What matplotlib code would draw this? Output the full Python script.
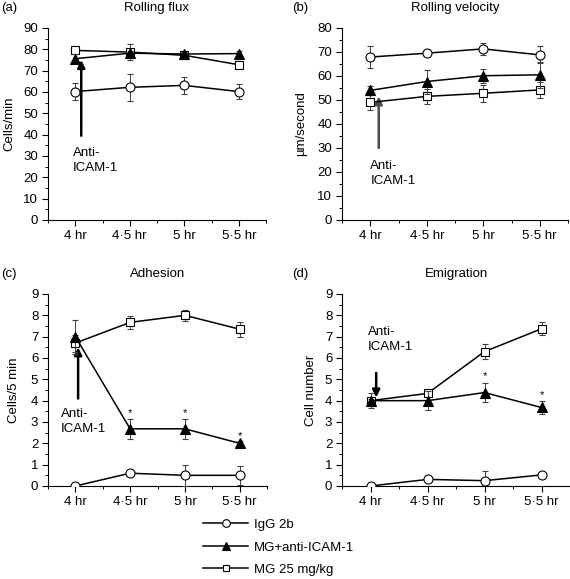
import matplotlib
matplotlib.use("Agg")
import matplotlib.pyplot as plt
from matplotlib.lines import Line2D
from matplotlib.ticker import MultipleLocator

plt.rcParams['font.family'] = ['Liberation Sans', 'DejaVu Sans']
plt.rcParams['font.size'] = 8.5

times = ["4 hr", "4\u00b75 hr", "5 hr", "5\u00b75 hr"]
xpos = [0, 1, 2, 3]

# (a) Rolling flux
flux_igg = [60.2, 62.2, 63.1, 60.2]
flux_igg_err = [4.0, 6.3, 4.0, 3.6]
flux_anti = [75.6, 78.2, 77.8, 78.0]
flux_anti_err = [2.0, 1.0, 1.0, 1.0]
flux_mg = [79.5, 78.7, 77.2, 72.8]
flux_mg_err = [1.0, 3.7, 1.5, 1.0]

# (b) Rolling velocity
vel_igg = [67.9, 69.5, 71.3, 68.8]
vel_igg_err = [4.5, 1.0, 2.4, 3.5]
vel_anti = [54.0, 57.7, 60.1, 60.5]
vel_anti_err = [2.0, 5.0, 3.0, 5.5]
vel_mg = [49.0, 51.5, 52.8, 54.2]
vel_mg_err = [3.0, 3.0, 3.5, 3.2]

# (c) Adhesion
adh_igg = [0.0, 0.6, 0.5, 0.5]
adh_igg_err = [0.0, 0.05, 0.5, 0.45]
adh_anti = [7.0, 2.68, 2.68, 2.0]
adh_anti_err = [0.8, 0.47, 0.47, 0.1]
adh_mg = [6.7, 7.67, 8.0, 7.35]
adh_mg_err = [0.4, 0.3, 0.25, 0.35]
adh_star = [1, 2, 3]

# (d) Emigration
emi_igg = [0.0, 0.31, 0.25, 0.52]
emi_igg_err = [0.0, 0.05, 0.45, 0.05]
emi_anti = [4.0, 4.0, 4.38, 3.68]
emi_anti_err = [0.1, 0.45, 0.45, 0.3]
emi_mg = [4.0, 4.34, 6.3, 7.37]
emi_mg_err = [0.35, 0.1, 0.35, 0.3]
emi_star = [2, 3]

series_names = ["IgG 2b", "MG+anti-ICAM-1", "MG 25 mg/kg"]

fig = plt.figure(figsize=(5.7, 5.79), dpi=100)

W, H = 570.0, 579.0
def box(l, r, top, bot):
    return [l / W, 1 - bot / H, (r - l) / W, (bot - top) / H]

ax_a = fig.add_axes(box(48, 266, 28, 220))
ax_b = fig.add_axes(box(342, 568, 28, 220))
ax_c = fig.add_axes(box(48, 267, 294, 486))
ax_d = fig.add_axes(box(342, 570, 294, 486))


def draw(ax, igg, igg_e, anti, anti_e, mg, mg_e):
    kw = dict(color="k", lw=1.1, ecolor="0.25", elinewidth=0.7, capsize=2,
              capthick=0.7)
    ax.errorbar(xpos, igg, yerr=igg_e, marker="o", ms=6.5, mfc="white",
                mec="k", mew=0.8, zorder=3, **kw)
    ax.errorbar(xpos, mg, yerr=mg_e, marker="s", ms=5.5, mfc="white",
                mec="k", mew=0.8, zorder=4, **kw)
    ax.errorbar(xpos, anti, yerr=anti_e, marker="^", ms=6.5, mfc="k",
                mec="k", mew=0.8, zorder=5, **kw)


def style(ax, ymax, major, minor, title, tag, ylabel, labx):
    ax.set_xlim(-0.5, 3.5)
    ax.set_ylim(0, ymax)
    ax.set_xticks(xpos)
    ax.set_xticklabels(times)
    ax.xaxis.set_minor_locator(MultipleLocator(0.5))
    ax.yaxis.set_major_locator(MultipleLocator(major))
    ax.yaxis.set_minor_locator(MultipleLocator(minor))
    ax.spines['top'].set_visible(False)
    ax.spines['right'].set_visible(False)
    ax.spines['left'].set_linewidth(0.8)
    ax.spines['bottom'].set_linewidth(0.8)
    ax.tick_params(which="major", length=4, width=0.8, labelsize=9.5, pad=3)
    ax.tick_params(which="minor", length=2.5, width=0.7)
    ax.set_ylabel(ylabel, fontsize=9.5)
    ax.yaxis.set_label_coords(labx, 0.5)
    ax.text(0.5, 1.105, title, transform=ax.transAxes, ha="center",
            va="center", fontsize=9.5)
    ax.text(-0.215 if ax in (ax_a, ax_c) else -0.22, 1.105, tag,
            transform=ax.transAxes, ha="left", va="center", fontsize=9.5)


draw(ax_a, flux_igg, flux_igg_err, flux_anti, flux_anti_err, flux_mg, flux_mg_err)
draw(ax_b, vel_igg, vel_igg_err, vel_anti, vel_anti_err, vel_mg, vel_mg_err)
draw(ax_c, adh_igg, adh_igg_err, adh_anti, adh_anti_err, adh_mg, adh_mg_err)
draw(ax_d, emi_igg, emi_igg_err, emi_anti, emi_anti_err, emi_mg, emi_mg_err)

style(ax_a, 90, 10, 5, "Rolling flux", "(a)", "Cells/min", -0.15)
style(ax_b, 80, 10, 5, "Rolling velocity", "(b)", "\u00b5m/second", -0.155)
style(ax_c, 9, 1, 0.5, "Adhesion", "(c)", "Cells/5 min", -0.128)
style(ax_d, 9, 1, 0.5, "Emigration", "(d)", "Cell number", -0.11)

# significance stars
for i in adh_star:
    ax_c.text(xpos[i], adh_anti[i] + adh_anti_err[i] + 0.25, "*",
              ha="center", va="center", fontsize=8)
for i in emi_star:
    ax_d.text(xpos[i], emi_anti[i] + emi_anti_err[i] + 0.3, "*",
              ha="center", va="center", fontsize=8)

# Anti-ICAM-1 arrows
arw = dict(arrowstyle="-|>", lw=1.8, color="k", mutation_scale=11,
           shrinkA=0, shrinkB=0)
ax_a.annotate("", xy=(0.11, 75.0), xytext=(0.11, 39.5), arrowprops=arw)
ax_a.text(-0.05, 28, "Anti-\nICAM-1", ha="left", va="center", fontsize=9.5,
          linespacing=1.3)
arw_b = dict(arw, color="0.3")
ax_b.annotate("", xy=(0.15, 51.5), xytext=(0.15, 30), arrowprops=arw_b)
ax_b.text(0.0, 19.5, "Anti-\nICAM-1", ha="left", va="center", fontsize=9.5,
          linespacing=1.3)
ax_c.annotate("", xy=(0.05, 6.5), xytext=(0.05, 4.1), arrowprops=arw)
ax_c.text(-0.27, 3.02, "Anti-\nICAM-1", ha="left", va="center", fontsize=9.5,
          linespacing=1.3)
ax_d.annotate("", xy=(0.1, 4.15), xytext=(0.1, 5.3), arrowprops=arw)
ax_d.text(-0.05, 6.88, "Anti-\nICAM-1", ha="left", va="center", fontsize=9.5,
          linespacing=1.3)

handles = [
    Line2D([], [], color="k", lw=1.1, marker="o", ms=5.5, mfc="white", mec="k", mew=0.8),
    Line2D([], [], color="k", lw=1.1, marker="^", ms=5.5, mfc="k", mec="k", mew=0.8),
    Line2D([], [], color="k", lw=1.1, marker="s", ms=5, mfc="white", mec="k", mew=0.8),
]
fig.legend(handles, series_names, loc="upper left", bbox_to_anchor=(0.357, 0.104),
           frameon=False, fontsize=9.5, handlelength=3.4, handletextpad=0.45,
           labelspacing=0.78, borderpad=0, borderaxespad=0)

plt.savefig("out.png", dpi=100)
plt.close()
